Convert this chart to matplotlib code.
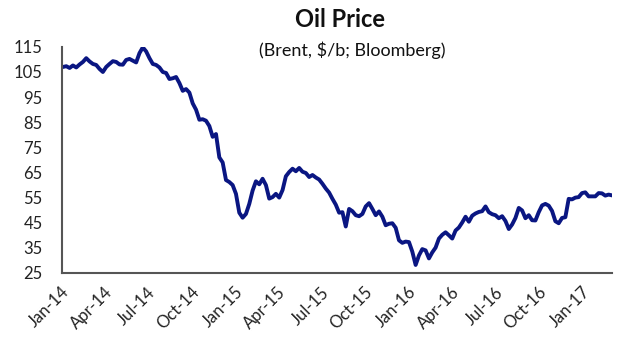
import numpy as np
import pandas as pd
import matplotlib
matplotlib.use("Agg")
from matplotlib import pyplot as plt
import matplotlib.transforms as mtransforms

# Brent, $/b -- weekly readings (Fridays), Jan 2014 .. early Mar 2017
price_2014 = [
    107.0, 107.3, 106.6, 107.6, 106.8,          # Jan
    108.0, 109.0, 110.5, 109.2,                 # Feb
    108.2, 107.8, 106.2, 105.0,                 # Mar
    107.0, 108.2, 109.3, 109.0,                 # Apr
    108.0, 107.9, 109.8, 110.2, 109.5,          # May
    108.8, 112.5, 114.8, 113.2,                 # Jun
    110.5, 108.2, 107.8, 106.8,                 # Jul
    105.0, 104.6, 102.2, 102.5, 103.0,          # Aug
    100.6, 97.5, 98.2, 96.8,                    # Sep
    92.5, 90.0, 86.0, 86.2, 85.6,               # Oct
    83.5, 79.2, 80.3, 71.0,                     # Nov
    69.0, 62.0, 61.2, 60.0,                     # Dec
]
price_2015 = [
    56.5, 49.0, 47.0, 48.5, 52.5,               # Jan
    57.8, 61.5, 60.3, 62.5,                     # Feb
    60.0, 54.6, 55.2, 56.5,                     # Mar
    55.0, 58.0, 63.5, 65.2,                     # Apr
    66.5, 65.5, 66.8, 65.3, 64.8,               # May
    63.2, 64.0, 63.0, 62.2,                     # Jun
    60.5, 58.6, 57.0, 54.5, 52.2,               # Jul
    49.0, 49.2, 43.5, 50.5,                     # Aug
    49.6, 48.0, 47.6, 48.5,                     # Sep
    51.5, 52.8, 50.5, 48.0, 49.5,               # Oct
    47.4, 44.0, 44.6, 44.8,                     # Nov
    43.0, 38.0, 37.0, 37.5,                     # Dec
]
price_2016 = [
    37.3, 33.5, 28.2, 32.0, 34.5,               # Jan
    34.0, 30.8, 33.2, 35.1,                     # Feb
    38.7, 40.2, 41.2, 40.0,                     # Mar
    38.7, 41.9, 43.1, 45.1, 47.4,               # Apr
    45.4, 47.8, 48.7, 49.3,                     # May
    49.6, 51.5, 49.2, 48.4,                     # Jun
    48.0, 46.8, 47.6, 45.7, 42.5,               # Jul
    44.3, 46.9, 50.9, 49.9,                     # Aug
    46.8, 48.0, 46.0, 45.9, 49.2,               # Sep
    51.9, 52.5, 51.8, 49.7,                     # Oct
    45.6, 44.8, 46.9, 47.2,                     # Nov
    54.5, 54.3, 55.0, 55.2, 56.8,               # Dec
]
price_2017 = [
    57.1, 55.5, 55.5, 55.5,                     # Jan
    56.8, 56.7, 55.8, 56.2,                     # Feb
    55.9,                                       # Mar
]
prices = price_2014 + price_2015 + price_2016 + price_2017
dates = pd.date_range("2014-01-03", periods=len(prices), freq="7D")

tick_dates = pd.date_range("2014-01-01", "2017-01-01", freq="3MS")
tick_labels = [d.strftime("%b-%y") for d in tick_dates]

plt.rcParams['font.family'] = ['Lato', 'DejaVu Sans']

fig = plt.figure(figsize=(6.2, 3.55), dpi=100)
ax = fig.add_axes([0.1, 0.231, 0.887, 0.637])

ax.plot(dates, prices, color='#0a1682', linewidth=2.8, solid_joinstyle='round')

ax.set_xlim(pd.Timestamp("2014-01-01"), dates[-1])
ax.set_ylim(25, 115)
ax.set_yticks(np.arange(25, 116, 10))
ax.set_xticks(tick_dates)
ax.set_xticklabels(tick_labels, rotation=45, ha='right', va='center',
                   rotation_mode='anchor')

ax.tick_params(axis='both', length=0, labelsize=12, colors='#222222')
ax.tick_params(axis='x', pad=12)
ax.tick_params(axis='y', pad=14)

# nudge rotated date labels a few pixels right
shift = mtransforms.ScaledTranslation(5 / 100, 0, fig.dpi_scale_trans)
for lbl in ax.get_xticklabels():
    lbl.set_transform(lbl.get_transform() + shift)

for side in ['top', 'right']:
    ax.spines[side].set_visible(False)
for side in ['left', 'bottom']:
    ax.spines[side].set_color('#555555')
    ax.spines[side].set_linewidth(1.5)

fig.text(0.548, 0.945, "Oil Price", ha='center', va='center',
         fontsize=17, fontweight='bold', color='#111111')
fig.text(0.568, 0.858, "(Brent, $/b; Bloomberg)", ha='center', va='center',
         fontsize=13, color='#111111')

fig.savefig("out.png", dpi=100)
